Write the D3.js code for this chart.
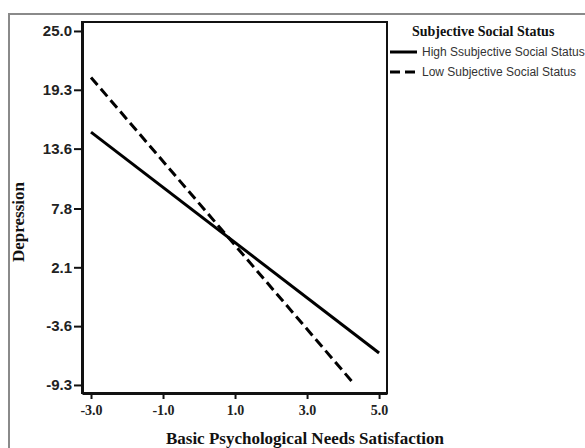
<!DOCTYPE html>
<html>
  <head>
    <meta http-equiv="content-type" content="text/html; charset=UTF-8">
    <title>simple slopes</title>
    <script type='text/javascript' src='https://d3js.org/d3.v7.min.js'></script>
    <style type='text/css'>
      body { margin: 0; background-color: white; }
      svg { display: block; }
    </style>
  </head>
  <body>
    <script type='text/javascript'>
      // values
      var seriesNames = ["High Ssubjective Social Status", "Low Subjective Social Status"];
      var highX = [-3.0, 5.0];
      var highY = [15.2, -6.2];
      var lowX = [-3.0, 4.28];
      var lowY = [20.5, -9.1];
      var yTickLabels = ["25.0", "19.3", "13.6", "7.8", "2.1", "-3.6", "-9.3"];
      var xTickLabels = ["-3.0", "-1.0", "1.0", "3.0", "5.0"];

      function draw() {
        var w = 585, h = 448;
        var svg = d3.select("body").append("svg").attr("width", w).attr("height", h);

        // outer chart frame (runs off the right and bottom edge)
        svg.append("rect")
          .attr("x", 9).attr("y", 14).attr("width", 600).attr("height", 460)
          .style("fill", "none").style("stroke", "#8a8a8a").style("stroke-width", 2);

        var pLeft = 82, pRight = 387, pTop = 22, pBottom = 393;

        var x = d3.scaleLinear().domain([-3.25, 5.22]).range([pLeft, pRight]);
        var y = d3.scaleLinear().domain([-10.08, 25.87]).range([pBottom, pTop]);

        // plot box
        svg.append("rect")
          .attr("x", pLeft).attr("y", pTop).attr("width", pRight - pLeft).attr("height", pBottom - pTop)
          .style("fill", "none").style("stroke", "#111").style("stroke-width", 2);

        var yAxis = d3.axisLeft(y)
          .tickValues(yTickLabels.map(Number))
          .tickFormat(function(d, i) { return yTickLabels[i]; })
          .tickSize(8).tickSizeOuter(0);
        var gy = svg.append("g").attr("transform", "translate(" + pLeft + ",0)").call(yAxis);
        gy.select(".domain").style("stroke", "#111").style("stroke-width", 3);
        gy.selectAll(".tick line").style("stroke", "#111").style("stroke-width", 2);
        gy.selectAll(".tick text")
          .attr("x", -10)
          .style("font-family", "'Liberation Sans', Arial, sans-serif")
          .style("font-weight", "bold").style("font-size", "15px").style("fill", "#222");

        var xAxis = d3.axisBottom(x)
          .tickValues(xTickLabels.map(Number))
          .tickFormat(function(d, i) { return xTickLabels[i]; })
          .tickSize(6).tickSizeOuter(0);
        var gx = svg.append("g").attr("transform", "translate(0," + pBottom + ")").call(xAxis);
        gx.select(".domain").style("stroke", "#111").style("stroke-width", 3);
        gx.selectAll(".tick line").style("stroke", "#111").style("stroke-width", 2);
        gx.selectAll(".tick text")
          .attr("y", 12)
          .style("font-family", "'Liberation Serif', 'Times New Roman', serif")
          .style("font-weight", "bold").style("font-size", "14px").style("fill", "#222");

        // regression lines
        var line = d3.line().x(function(d) { return x(d[0]); }).y(function(d) { return y(d[1]); });
        var high = d3.zip(highX, highY);
        var low = d3.zip(lowX, lowY);

        svg.append("path").datum(high).attr("d", line)
          .style("fill", "none").style("stroke", "#000").style("stroke-width", 3);
        svg.append("path").datum(low).attr("d", line)
          .style("fill", "none").style("stroke", "#000").style("stroke-width", 3)
          .style("stroke-dasharray", "10,5");

        // axis titles
        svg.append("text")
          .attr("x", 305).attr("y", 444).attr("text-anchor", "middle")
          .style("font-family", "'Liberation Serif', 'Times New Roman', serif")
          .style("font-weight", "bold").style("font-size", "17px").style("fill", "#111")
          .text("Basic Psychological Needs Satisfaction");

        svg.append("text")
          .attr("transform", "translate(24,222) rotate(-90)").attr("text-anchor", "middle")
          .style("font-family", "'Liberation Serif', 'Times New Roman', serif")
          .style("font-weight", "bold").style("font-size", "17px").style("fill", "#111")
          .text("Depression");

        // legend
        svg.append("text")
          .attr("x", 412).attr("y", 36)
          .style("font-family", "'Liberation Serif', 'Times New Roman', serif")
          .style("font-weight", "bold").style("font-size", "14px").style("fill", "#111")
          .text("Subjective Social Status");

        var dashes = [null, "10,5"];
        seriesNames.forEach(function(name, i) {
          var ly = 52 + i * 20;
          svg.append("line")
            .attr("x1", 390).attr("x2", 417).attr("y1", ly).attr("y2", ly)
            .style("stroke", "#000").style("stroke-width", 3)
            .style("stroke-dasharray", dashes[i]);
          svg.append("text")
            .attr("x", 422).attr("y", ly + 4)
            .style("font-family", "'Liberation Sans', Arial, sans-serif")
            .style("font-size", "12px").style("fill", "#333")
            .text(name);
        });
      }

      draw();
    </script>
  </body>
</html>
